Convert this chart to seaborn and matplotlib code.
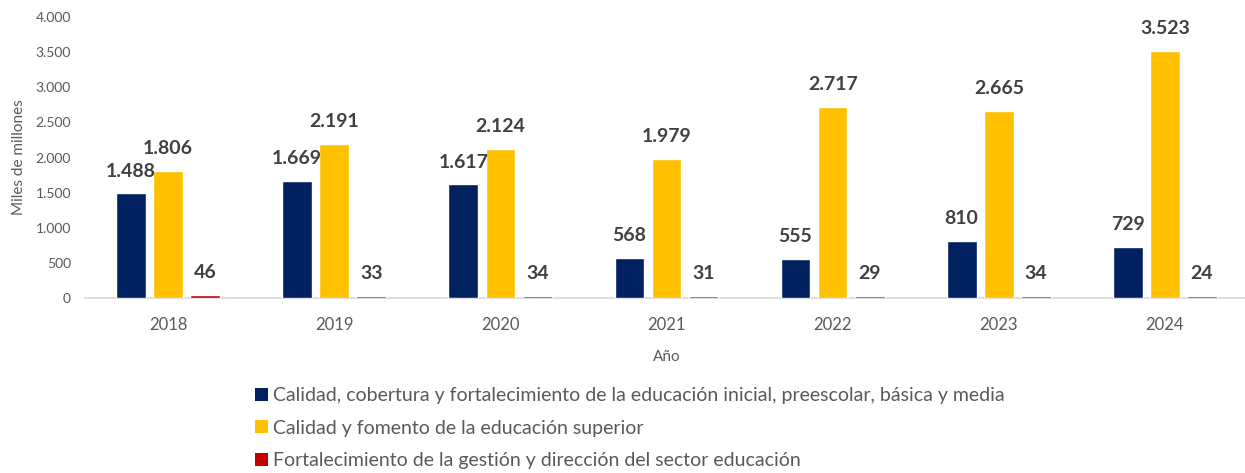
import numpy as np
import pandas as pd
import matplotlib.pyplot as plt
import seaborn as sns
from matplotlib.patches import Patch
from matplotlib.ticker import FuncFormatter

years = ['2018', '2019', '2020', '2021', '2022', '2023', '2024']
basica = [1488, 1669, 1617, 568, 555, 810, 729]
superior = [1806, 2191, 2124, 1979, 2717, 2665, 3523]
gestion = [46, 33, 34, 31, 29, 34, 24]

series_names = [
    'Calidad, cobertura y fortalecimiento de la educación inicial, preescolar, básica y media',
    'Calidad y fomento de la educación superior',
    'Fortalecimiento de la gestión y dirección del sector educación',
]
colors = ['#002060', '#FFC000', '#C00000']

df = pd.DataFrame({
    'Año': years * 3,
    'valor': basica + superior + gestion,
    'serie': [series_names[0]] * 7 + [series_names[1]] * 7 + [series_names[2]] * 7,
})

sns.set_style('white')
plt.rcParams['font.family'] = ['Lato', 'DejaVu Sans']

fig = plt.figure(figsize=(12.45, 4.73), dpi=100)
ax = fig.add_axes([85 / 1245, 1 - 298 / 473, (1248 - 85) / 1245, (298 - 17) / 473])

sns.barplot(data=df, x='Año', y='valor', hue='serie', palette=colors,
            width=0.67, gap=0.2, ax=ax, legend=False, saturation=1)

for cont in ax.containers:
    ax.bar_label(cont, labels=[f'{v:,.0f}'.replace(',', '.') for v in cont.datavalues],
                 padding=10, fontsize=14, fontweight='bold', color='#404040')

ax.set_ylim(0, 4000)
ax.set_xlim(-0.5, 6.5)
ax.set_yticks(np.arange(0, 4001, 500))
ax.yaxis.set_major_formatter(FuncFormatter(lambda v, p: f'{v:,.0f}'.replace(',', '.')))
ax.tick_params(axis='y', labelsize=10, colors='#595959', length=0, pad=10)
ax.tick_params(axis='x', labelsize=12, colors='#595959', length=0, pad=14)
ax.set_xlabel('Año', fontsize=11, color='#595959', labelpad=12)
ax.set_ylabel('Miles de millones', fontsize=11, color='#595959', labelpad=7)

for s in ['top', 'right', 'left']:
    ax.spines[s].set_visible(False)
ax.spines['bottom'].set_color('#d9d9d9')
ax.spines['bottom'].set_linewidth(1.2)
ax.spines['bottom'].set_zorder(0.5)

handles = [Patch(facecolor=c, edgecolor='none') for c in colors]
leg = fig.legend(handles, series_names, loc='upper left',
                 bbox_to_anchor=(255 / 1245, 1 - 387 / 473), frameon=False,
                 fontsize=14, handlelength=0.65, handleheight=0.65,
                 handletextpad=0.3, labelspacing=0.8, borderpad=0, borderaxespad=0)
for t in leg.get_texts():
    t.set_color('#595959')

fig.savefig('out.png', dpi=100)
